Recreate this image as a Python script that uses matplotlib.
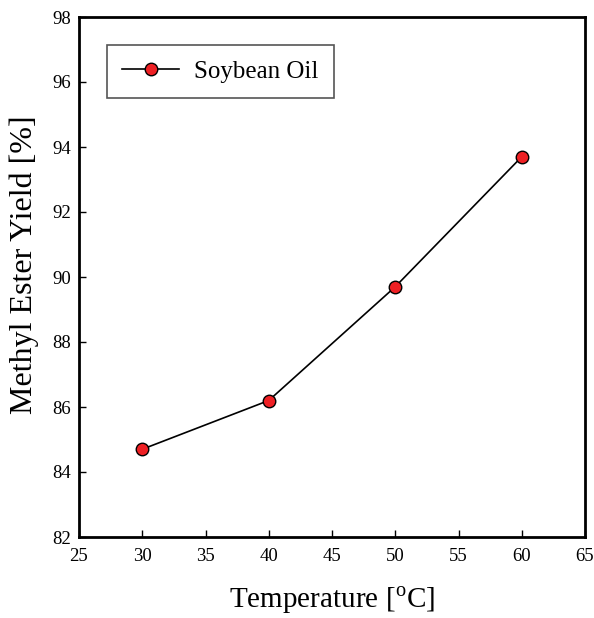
import matplotlib
matplotlib.use("Agg")
import matplotlib.pyplot as plt

temperature = [30, 40, 50, 60]
yield_pct = [84.7, 86.2, 89.7, 93.7]
series_label = "Soybean Oil"
xticks = [25, 30, 35, 40, 45, 50, 55, 60, 65]
yticks = [82, 84, 86, 88, 90, 92, 94, 96, 98]

plt.rcParams["font.family"] = ["Liberation Serif", "DejaVu Serif"]
plt.rcParams["mathtext.fontset"] = "custom"
plt.rcParams["mathtext.rm"] = "Liberation Serif"

fig = plt.figure(figsize=(5.94, 6.18), dpi=100)
ax = fig.add_axes([79 / 594, 1 - 537 / 618, (585 - 79) / 594, (537 - 17) / 618])

ax.plot(temperature, yield_pct, color="black", lw=1.2, marker="o",
        markersize=9, markerfacecolor="#ee2024", markeredgecolor="black",
        markeredgewidth=1.0, label=series_label)

ax.set_xlim(25, 65)
ax.set_ylim(82, 98)
ax.set_xticks(xticks)
ax.set_yticks(yticks)
ax.tick_params(direction="in", length=5, width=1, labelsize=13.5,
               top=False, right=False, pad=6)
ax.tick_params(axis="x", pad=8)
for s in ax.spines.values():
    s.set_linewidth(2)

ax.set_xlabel(r"Temperature [$^\mathrm{o}$C]", fontsize=21, labelpad=14)
ax.set_ylabel("Methyl Ester Yield [%]", fontsize=23)
ax.yaxis.set_label_coords(-0.08, 0.524)

leg = ax.legend(loc="upper left", bbox_to_anchor=(0.055, 0.946), fontsize=18,
                fancybox=False, framealpha=1, edgecolor="#555555",
                borderpad=0.6, borderaxespad=0, handlelength=2.3,
                handletextpad=0.6)
leg.get_frame().set_linewidth(1.2)

fig.savefig("out.png", dpi=100)
